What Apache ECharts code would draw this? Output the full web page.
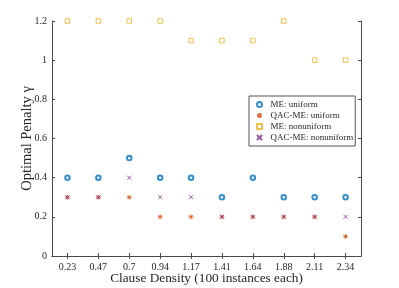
<!DOCTYPE html>
<html><head><meta charset="utf-8">
<script src="https://cdn.jsdelivr.net/npm/echarts@6/dist/echarts.min.js"></script>
<style>html,body{margin:0;padding:0;background:#fff}#c{width:399px;height:288px}</style>
</head><body><div id="c"></div>
<script>
const categories = ['0.23','0.47','0.7','0.94','1.17','1.41','1.64','1.88','2.11','2.34'];
const meUniform = [0.4,0.4,0.5,0.4,0.4,0.3,0.4,0.3,0.3,0.3];
const qacUniform = [0.3,0.3,0.3,0.2,0.2,0.2,0.2,0.2,0.2,0.1];
const meNonuniform = [1.2,1.2,1.2,1.2,1.1,1.1,1.1,1.2,1.0,1.0];
const qacNonuniform = [0.3,0.3,0.4,0.3,0.3,0.2,0.2,0.2,0.2,0.2];
const seriesNames = ['ME: uniform','QAC-ME: uniform','ME: nonuniform','QAC-ME: nonuniform'];

const FONT = 'Liberation Serif';
const AX = '#4a4a4a';
const ast = 'path://M5,0L5,10M0,5L10,5M1.5,1.5L8.5,8.5M8.5,1.5L1.5,8.5';
const xs = 'path://M0,0L10,10M10,0L0,10';
const sq = 'path://M0,0L10,0L10,10L0,10Z';

const chart = echarts.init(document.getElementById('c'), null, {renderer:'canvas'});
const axisCommon = {
  axisLine:{show:true, lineStyle:{color:AX, width:1}},
  axisTick:{show:true, inside:true, length:3, lineStyle:{color:AX}},
  splitLine:{show:false}
};
chart.setOption({
  animation:false,
  backgroundColor:'#fff',
  grid:{left:52, right:38, top:21, bottom:32, outerBoundsMode:'none', containLabel:false},
  xAxis:[
    Object.assign({type:'category', data:categories, boundaryGap:true, position:'bottom',
      name:'Clause Density (100 instances each)', nameLocation:'middle', nameGap:16,
      nameMoveOverlap:false,
      nameTextStyle:{fontFamily:FONT, fontSize:13.3, color:'#262626'},
      axisLabel:{fontFamily:FONT, fontSize:10, color:'#262626', margin:6}}, axisCommon,
      {axisTick:{show:true, inside:true, length:3, alignWithLabel:true, lineStyle:{color:AX}}}),
    Object.assign({type:'category', data:categories, boundaryGap:true, position:'top',
      axisLabel:{show:false}}, axisCommon,
      {axisTick:{show:true, inside:true, length:3, alignWithLabel:true, lineStyle:{color:AX}}})
  ],
  yAxis:[
    Object.assign({type:'value', min:0, max:1.2, interval:0.2, position:'left',
      name:'Optimal Penalty γ', nameLocation:'middle', nameGap:17,
      nameMoveOverlap:false,
      nameTextStyle:{fontFamily:FONT, fontSize:14.5, color:'#262626'},
      axisLabel:{fontFamily:FONT, fontSize:10, color:'#262626', margin:5}}, axisCommon),
    Object.assign({type:'value', min:0, max:1.2, interval:0.2, position:'right',
      axisLabel:{show:false}}, axisCommon)
  ],
  legend:{
    orient:'vertical', left:249, top:96, data:seriesNames,
    itemWidth:12, itemHeight:5, itemGap:0,
    padding:[3,2,3,7],
    backgroundColor:'#fff', borderColor:'#555', borderWidth:1,
    textStyle:{fontFamily:FONT, fontSize:9, color:'#262626', lineHeight:11}
  },
  series:[
    {name:seriesNames[0], type:'scatter', data:meUniform, symbol:'emptyCircle', symbolSize:4.5,
     itemStyle:{color:'#0072BD', borderWidth:1}},
    {name:seriesNames[1], type:'scatter', data:qacUniform, symbol:ast, symbolSize:5,
     itemStyle:{color:'#D95319', borderColor:'#D95319', borderWidth:1}},
    {name:seriesNames[2], type:'scatter', data:meNonuniform, symbol:sq, symbolSize:4.5,
     itemStyle:{color:'rgba(0,0,0,0)', borderColor:'#EDB120', borderWidth:1}},
    {name:seriesNames[3], type:'scatter', data:qacNonuniform, symbol:xs, symbolSize:4,
     itemStyle:{color:'rgba(0,0,0,0)', borderColor:'#7E2F8E', borderWidth:1}}
  ]
});
</script></body></html>
